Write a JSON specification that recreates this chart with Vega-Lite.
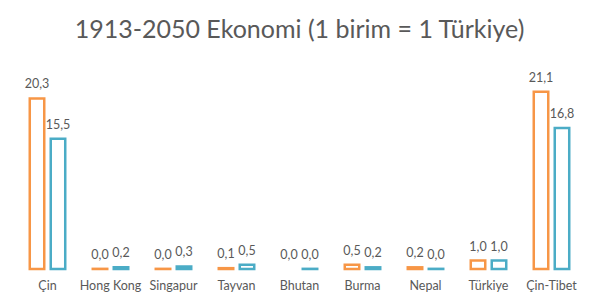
{
  "$schema": "https://vega.github.io/schema/vega-lite/v6.json",
  "width": 567,
  "height": 210,
  "autosize": "none",
  "padding": {"left": 16, "top": 59, "right": 17, "bottom": 34},
  "background": "white",
  "title": {
    "text": "1913-2050 Ekonomi (1 birim = 1 Türkiye)",
    "font": "Lato",
    "fontSize": 25,
    "fontWeight": "normal",
    "color": "#595959",
    "anchor": "middle",
    "offset": 16
  },
  "config": {
    "view": {"stroke": null},
    "locale": {"number": {"decimal": ",", "thousands": ".", "grouping": [3], "currency": ["", " TL"]}}
  },
  "data": {
    "values": [
      {"ulke": "Çin", "yil": "1913", "v": 20.3},
      {"ulke": "Çin", "yil": "2050", "v": 15.5},
      {"ulke": "Hong Kong", "yil": "1913", "v": 0.02},
      {"ulke": "Hong Kong", "yil": "2050", "v": 0.2},
      {"ulke": "Singapur", "yil": "1913", "v": 0.02},
      {"ulke": "Singapur", "yil": "2050", "v": 0.3},
      {"ulke": "Tayvan", "yil": "1913", "v": 0.1},
      {"ulke": "Tayvan", "yil": "2050", "v": 0.5},
      {"ulke": "Bhutan", "yil": "1913", "v": 0},
      {"ulke": "Bhutan", "yil": "2050", "v": 0.02},
      {"ulke": "Burma", "yil": "1913", "v": 0.5},
      {"ulke": "Burma", "yil": "2050", "v": 0.2},
      {"ulke": "Nepal", "yil": "1913", "v": 0.2},
      {"ulke": "Nepal", "yil": "2050", "v": 0.02},
      {"ulke": "Türkiye", "yil": "1913", "v": 1.0},
      {"ulke": "Türkiye", "yil": "2050", "v": 1.0},
      {"ulke": "Çin-Tibet", "yil": "1913", "v": 21.1},
      {"ulke": "Çin-Tibet", "yil": "2050", "v": 16.8}
    ]
  },
  "encoding": {
    "x": {
      "field": "ulke",
      "type": "nominal",
      "sort": null,
      "scale": {"paddingInner": 0.437, "paddingOuter": 0.2185},
      "axis": {
        "title": null,
        "labelAngle": 0,
        "domain": false,
        "ticks": false,
        "labelPadding": 10,
        "labelFont": "Lato",
        "labelFontSize": 12.5,
        "labelColor": "#595959"
      }
    },
    "xOffset": {
      "field": "yil",
      "type": "nominal",
      "scale": {"paddingInner": 0.31, "paddingOuter": 0}
    },
    "y": {
      "field": "v",
      "type": "quantitative",
      "scale": {"domain": [0, 25], "nice": false},
      "axis": null
    }
  },
  "layer": [
    {
      "mark": {"type": "bar", "filled": false, "strokeWidth": 2.5, "fill": "white"},
      "encoding": {
        "stroke": {
          "field": "yil",
          "type": "nominal",
          "scale": {"domain": ["1913", "2050"], "range": ["#F79646", "#4BACC6"]},
          "legend": null
        },
        "strokeOpacity": {"condition": {"test": "datum.v == 0", "value": 0}, "value": 1}
      }
    },
    {
      "mark": {"type": "text", "baseline": "bottom", "dy": -7, "font": "Lato", "fontSize": 12.5, "color": "#595959"},
      "encoding": {
        "text": {"field": "v", "type": "quantitative", "format": ".1f"}
      }
    }
  ]
}
